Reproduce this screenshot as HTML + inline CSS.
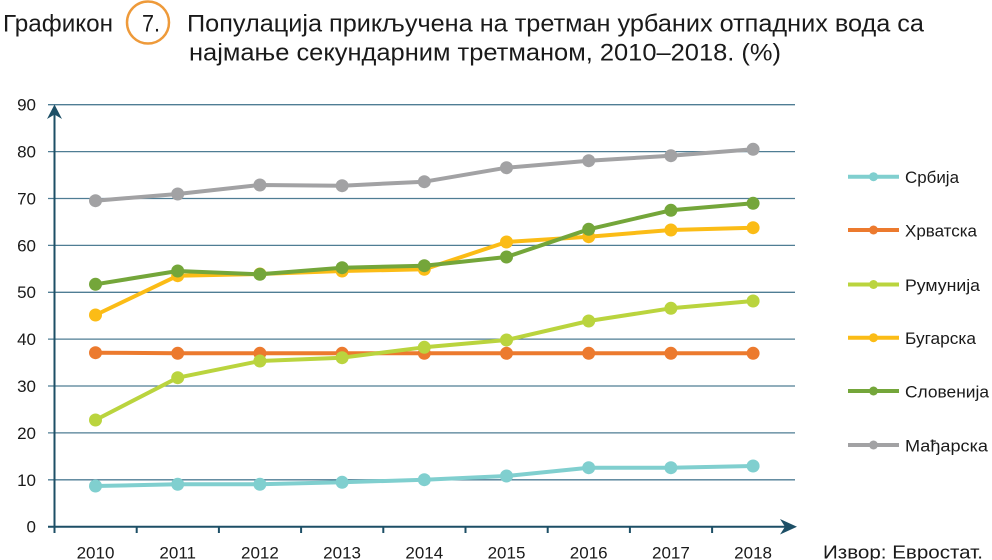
<!DOCTYPE html>
<html><head><meta charset="utf-8"><style>
html,body{margin:0;padding:0;background:#fff;}
svg{display:block;}
text{font-family:"Liberation Sans","DejaVu Sans",sans-serif;fill:#1a1a1a;}
</style></head><body>
<svg width="992" height="560" viewBox="0 0 992 560" xmlns="http://www.w3.org/2000/svg">
<!-- Title -->
<text x="3" y="31.5" font-size="24" textLength="110" lengthAdjust="spacingAndGlyphs">Графикон</text>
<circle cx="148" cy="22.5" r="21" fill="none" stroke="#EE9A3A" stroke-width="2.5"/>
<text x="142" y="31.5" font-size="24" textLength="18" lengthAdjust="spacingAndGlyphs">7.</text>
<text x="187" y="31.5" font-size="24" textLength="737" lengthAdjust="spacingAndGlyphs">Популација прикључена на третман урбаних отпадних вода са</text>
<text x="189" y="60.5" font-size="24" textLength="592" lengthAdjust="spacingAndGlyphs">најмање секундарним третманом, 2010–2018. (%)</text>

<!-- Gridlines -->
<g stroke="#4f7d94" stroke-width="1.3">
<line x1="48" y1="104.7" x2="795" y2="104.7"/>
<line x1="48" y1="151.6" x2="795" y2="151.6"/>
<line x1="48" y1="198.5" x2="795" y2="198.5"/>
<line x1="48" y1="245.4" x2="795" y2="245.4"/>
<line x1="48" y1="292.3" x2="795" y2="292.3"/>
<line x1="48" y1="339.1" x2="795" y2="339.1"/>
<line x1="48" y1="386.0" x2="795" y2="386.0"/>
<line x1="48" y1="432.9" x2="795" y2="432.9"/>
<line x1="48" y1="479.8" x2="795" y2="479.8"/>
</g>
<!-- Axes -->
<g stroke="#1d4f66" stroke-width="2" fill="none">
<line x1="54.5" y1="527" x2="54.5" y2="108"/>
<line x1="48" y1="526.7" x2="793" y2="526.7"/>
<line x1="54.5" y1="527" x2="54.5" y2="533"/>
<line x1="136.7" y1="527" x2="136.7" y2="533"/>
<line x1="218.9" y1="527" x2="218.9" y2="533"/>
<line x1="301.1" y1="527" x2="301.1" y2="533"/>
<line x1="383.3" y1="527" x2="383.3" y2="533"/>
<line x1="465.5" y1="527" x2="465.5" y2="533"/>
<line x1="547.7" y1="527" x2="547.7" y2="533"/>
<line x1="629.9" y1="527" x2="629.9" y2="533"/>
<line x1="712.1" y1="527" x2="712.1" y2="533"/>
</g>
<path d="M54.5 104.5 L62 119 L54.5 114.5 L47 119 Z" fill="#1d4f66"/>
<path d="M797 526.7 L780 519 L785 526.7 L780 534.5 Z" fill="#1d4f66"/>

<!-- Y labels -->
<g font-size="17" text-anchor="end">
<text x="36" y="110.5">90</text>
<text x="36" y="157.5">80</text>
<text x="36" y="204.5">70</text>
<text x="36" y="251.5">60</text>
<text x="36" y="298">50</text>
<text x="36" y="345">40</text>
<text x="36" y="392">30</text>
<text x="36" y="439">20</text>
<text x="36" y="486">10</text>
<text x="36" y="532.5">0</text>
</g>
<!-- X labels -->
<g font-size="17" text-anchor="middle">
<text x="95.5" y="558.5">2010</text>
<text x="177.7" y="558.5">2011</text>
<text x="259.9" y="558.5">2012</text>
<text x="342.1" y="558.5">2013</text>
<text x="424.3" y="558.5">2014</text>
<text x="506.5" y="558.5">2015</text>
<text x="588.7" y="558.5">2016</text>
<text x="670.9" y="558.5">2017</text>
<text x="753.1" y="558.5">2018</text>
</g>
<text x="823" y="558.5" font-size="18" textLength="160" lengthAdjust="spacingAndGlyphs">Извор: Евростат.</text>

<!-- Series -->
<g stroke-width="4" fill="none" stroke-linejoin="round">
<polyline stroke="#80CFCF" points="95.5,486 177.7,484.3 259.9,484.3 342.1,482.3 424.3,479.7 506.5,476 588.7,467.7 670.9,467.7 753.1,466"/>
</g>
<g fill="#80CFCF">
<circle cx="95.5" cy="486" r="6.5"/><circle cx="177.7" cy="484.3" r="6.5"/><circle cx="259.9" cy="484.3" r="6.5"/><circle cx="342.1" cy="482.3" r="6.5"/><circle cx="424.3" cy="479.7" r="6.5"/><circle cx="506.5" cy="476" r="6.5"/><circle cx="588.7" cy="467.7" r="6.5"/><circle cx="670.9" cy="467.7" r="6.5"/><circle cx="753.1" cy="466" r="6.5"/>
</g>

<polyline stroke="#EC7A2E" stroke-width="4" fill="none" points="95.5,352.7 177.7,353.3 259.9,353.3 342.1,353.3 424.3,353.3 506.5,353.3 588.7,353.3 670.9,353.3 753.1,353.3"/>
<g fill="#EC7A2E">
<circle cx="95.5" cy="352.7" r="6.5"/><circle cx="177.7" cy="353.3" r="6.5"/><circle cx="259.9" cy="353.3" r="6.5"/><circle cx="342.1" cy="353.3" r="6.5"/><circle cx="424.3" cy="353.3" r="6.5"/><circle cx="506.5" cy="353.3" r="6.5"/><circle cx="588.7" cy="353.3" r="6.5"/><circle cx="670.9" cy="353.3" r="6.5"/><circle cx="753.1" cy="353.3" r="6.5"/>
</g>

<polyline stroke="#BAD43E" stroke-width="4" fill="none" stroke-linejoin="round" points="95.5,420 177.7,377.7 259.9,361 342.1,357.7 424.3,347.3 506.5,340 588.7,321 670.9,308.3 753.1,301"/>
<g fill="#BAD43E">
<circle cx="95.5" cy="420" r="6.5"/><circle cx="177.7" cy="377.7" r="6.5"/><circle cx="259.9" cy="361" r="6.5"/><circle cx="342.1" cy="357.7" r="6.5"/><circle cx="424.3" cy="347.3" r="6.5"/><circle cx="506.5" cy="340" r="6.5"/><circle cx="588.7" cy="321" r="6.5"/><circle cx="670.9" cy="308.3" r="6.5"/><circle cx="753.1" cy="301" r="6.5"/>
</g>

<polyline stroke="#FBBC16" stroke-width="4" fill="none" stroke-linejoin="round" points="95.5,315 177.7,275.7 259.9,274 342.1,271 424.3,269.3 506.5,242 588.7,236.7 670.9,230 753.1,227.7"/>
<g fill="#FBBC16">
<circle cx="95.5" cy="315" r="6.5"/><circle cx="177.7" cy="275.7" r="6.5"/><circle cx="259.9" cy="274" r="6.5"/><circle cx="342.1" cy="271" r="6.5"/><circle cx="424.3" cy="269.3" r="6.5"/><circle cx="506.5" cy="242" r="6.5"/><circle cx="588.7" cy="236.7" r="6.5"/><circle cx="670.9" cy="230" r="6.5"/><circle cx="753.1" cy="227.7" r="6.5"/>
</g>

<polyline stroke="#74A63A" stroke-width="4" fill="none" stroke-linejoin="round" points="95.5,284.3 177.7,271 259.9,274.3 342.1,267.7 424.3,265.7 506.5,257 588.7,229.3 670.9,210.3 753.1,203.3"/>
<g fill="#74A63A">
<circle cx="95.5" cy="284.3" r="6.5"/><circle cx="177.7" cy="271" r="6.5"/><circle cx="259.9" cy="274.3" r="6.5"/><circle cx="342.1" cy="267.7" r="6.5"/><circle cx="424.3" cy="265.7" r="6.5"/><circle cx="506.5" cy="257" r="6.5"/><circle cx="588.7" cy="229.3" r="6.5"/><circle cx="670.9" cy="210.3" r="6.5"/><circle cx="753.1" cy="203.3" r="6.5"/>
</g>

<polyline stroke="#A2A2A4" stroke-width="4" fill="none" stroke-linejoin="round" points="95.5,200.7 177.7,194 259.9,185 342.1,185.7 424.3,181.7 506.5,167.7 588.7,160.7 670.9,155.7 753.1,149.3"/>
<g fill="#A2A2A4">
<circle cx="95.5" cy="200.7" r="6.5"/><circle cx="177.7" cy="194" r="6.5"/><circle cx="259.9" cy="185" r="6.5"/><circle cx="342.1" cy="185.7" r="6.5"/><circle cx="424.3" cy="181.7" r="6.5"/><circle cx="506.5" cy="167.7" r="6.5"/><circle cx="588.7" cy="160.7" r="6.5"/><circle cx="670.9" cy="155.7" r="6.5"/><circle cx="753.1" cy="149.3" r="6.5"/>
</g>

<!-- Legend -->
<g stroke-width="4">
<line x1="848" y1="176.7" x2="899" y2="176.7" stroke="#80CFCF"/>
<line x1="848" y1="230" x2="899" y2="230" stroke="#EC7A2E"/>
<line x1="848" y1="284.5" x2="899" y2="284.5" stroke="#BAD43E"/>
<line x1="848" y1="337.7" x2="899" y2="337.7" stroke="#FBBC16"/>
<line x1="848" y1="391" x2="899" y2="391" stroke="#74A63A"/>
<line x1="848" y1="445" x2="899" y2="445" stroke="#A2A2A4"/>
</g>
<circle cx="873.5" cy="176.7" r="4.5" fill="#80CFCF"/>
<circle cx="873.5" cy="230" r="4.5" fill="#EC7A2E"/>
<circle cx="873.5" cy="284.5" r="4.5" fill="#BAD43E"/>
<circle cx="873.5" cy="337.7" r="4.5" fill="#FBBC16"/>
<circle cx="873.5" cy="391" r="4.5" fill="#74A63A"/>
<circle cx="873.5" cy="445" r="4.5" fill="#A2A2A4"/>
<g font-size="17">
<text x="905" y="183" textLength="54" lengthAdjust="spacingAndGlyphs">Србија</text>
<text x="905" y="236.5" textLength="72" lengthAdjust="spacingAndGlyphs">Хрватска</text>
<text x="905" y="291" textLength="75" lengthAdjust="spacingAndGlyphs">Румунија</text>
<text x="905" y="344" textLength="71" lengthAdjust="spacingAndGlyphs">Бугарска</text>
<text x="905" y="397.5" textLength="84" lengthAdjust="spacingAndGlyphs">Словенија</text>
<text x="905" y="451.5" textLength="83" lengthAdjust="spacingAndGlyphs">Мађарска</text>
</g>
</svg>
</body></html>
